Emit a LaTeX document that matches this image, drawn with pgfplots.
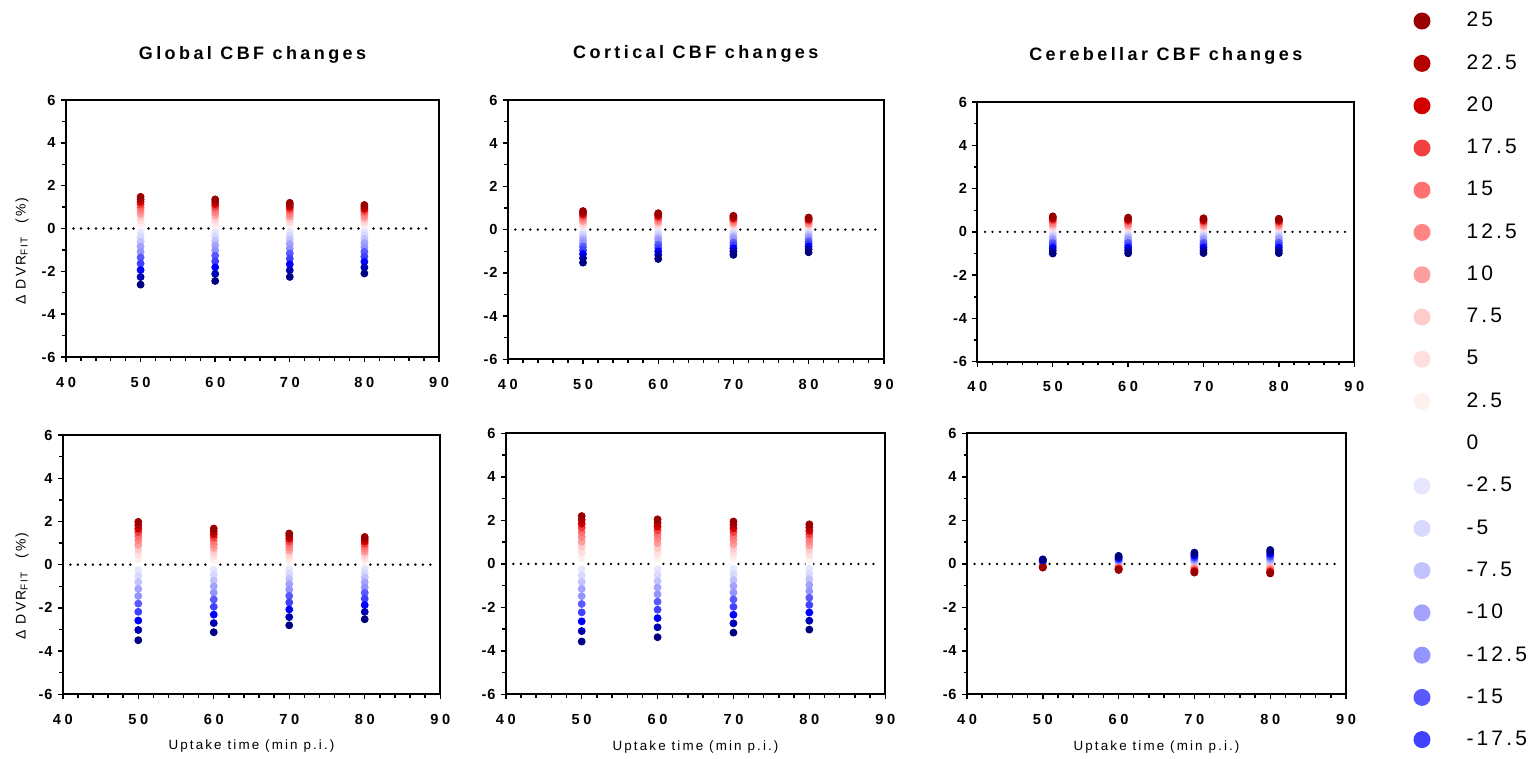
\documentclass[border=0pt]{standalone}
\usepackage{fontspec}
\setmainfont{Liberation Sans}
\usepackage{pgfplots}
\usepackage{pgfplotstable}
\pgfplotsset{compat=1.18}
\newfontfamily\tickfam[LetterSpace=25]{Liberation Sans}
\newfontfamily\ytickfam[LetterSpace=6]{Liberation Sans}
\newfontfamily\titlefam[LetterSpace=19]{Liberation Sans}
\newfontfamily\legfam[LetterSpace=15]{Liberation Sans}
\newfontfamily\labfam[LetterSpace=16]{Liberation Sans}
\newcommand\tickf{\tickfam\bfseries\fontsize{7.3pt}{8pt}\selectfont}
\newcommand\ytickf{\ytickfam\bfseries\fontsize{7.3pt}{8pt}\selectfont}
\newcommand\titlef{\titlefam\bfseries\fontsize{9pt}{10pt}\selectfont}
\newcommand\legf{\legfam\fontsize{10.5pt}{12pt}\selectfont}
\newcommand\labf{\labfam\fontsize{6.7pt}{8pt}\selectfont}
\newcommand\ylabf{\labfam\fontsize{7pt}{8pt}\selectfont}

\definecolor{c25}{RGB}{153,0,0}
\definecolor{c225}{RGB}{179,0,0}
\definecolor{c20}{RGB}{212,0,0}
\definecolor{c175}{RGB}{242,64,64}
\definecolor{c15}{RGB}{255,112,112}
\definecolor{c125}{RGB}{255,133,133}
\definecolor{c10}{RGB}{255,158,158}
\definecolor{c75}{RGB}{255,204,204}
\definecolor{c5}{RGB}{255,222,222}
\definecolor{c25s}{RGB}{255,240,240}
\definecolor{cm25s}{RGB}{230,230,255}
\definecolor{cm5}{RGB}{217,217,255}
\definecolor{cm75}{RGB}{194,194,255}
\definecolor{cm10}{RGB}{163,163,255}
\definecolor{cm125}{RGB}{148,148,255}
\definecolor{cm15}{RGB}{89,89,255}
\definecolor{cm175}{RGB}{64,64,255}

\pgfplotsset{
  colormap={cbf}{rgb255=(0,0,128) rgb255=(0,0,179) rgb255=(0,0,255) rgb255=(64,64,255)
    rgb255=(89,89,255) rgb255=(148,148,255) rgb255=(163,163,255) rgb255=(194,194,255)
    rgb255=(217,217,255) rgb255=(230,230,255) rgb255=(255,255,255) rgb255=(255,240,240)
    rgb255=(255,222,222) rgb255=(255,204,204) rgb255=(255,158,158) rgb255=(255,133,133)
    rgb255=(255,112,112) rgb255=(242,64,64) rgb255=(212,0,0) rgb255=(179,0,0) rgb255=(153,0,0)},
  panel/.style={
    scale only axis, anchor=north west,
    xmin=40, xmax=90, ymin=-6, ymax=6,
    xtick={40,50,...,90}, ytick={-6,-4,...,6},
    minor x tick num=4, minor y tick num=1,
    tick align=outside, xtick pos=bottom, ytick pos=left,
    major tick length=2.5pt, minor tick length=1.75pt,
    tick style={black, line width=0.7pt},
    axis line style={line width=1pt},
    xticklabel style={font=\tickf, inner sep=0pt},
    yticklabel style={font=\ytickf, inner sep=0pt},
    /pgf/number format/assume math mode=true,
    xticklabel shift=7.3pt, yticklabel shift=2.5pt,
    colormap name=cbf, point meta min=-25, point meta max=25,
    title style={font=\titlef, anchor=base, at={(axis description cs:0.5,1.112)}},
    xlabel style={font=\labf, anchor=center, at={(axis description cs:0.5,-0.2)}},
    ylabel style={font=\ylabf, anchor=center},
  },
  dotcol/.style={scatter, only marks, mark=*, mark size=1.75pt, scatter src=explicit,
    scatter/use mapped color={draw=mapped color, fill=mapped color}, forget plot},
  zeroline/.style={black, line width=1.3pt, dash pattern=on 0pt off 3.75pt, line cap=round, forget plot},
}

% columns: CBF change level, Delta DVR at 50, 60, 70, 80 min
\pgfplotstableread{
lvl a b c d
0 0 0 0 0
2.5 0.185 0.170 0.150 0.138
-2.5 -0.191 -0.179 -0.165 -0.153
5 0.361 0.332 0.293 0.268
-5 -0.396 -0.370 -0.341 -0.317
7.5 0.527 0.484 0.427 0.392
-7.5 -0.610 -0.571 -0.527 -0.489
10 0.684 0.628 0.554 0.508
-10 -0.841 -0.786 -0.725 -0.674
12.5 0.833 0.766 0.676 0.619
-12.5 -1.087 -1.017 -0.938 -0.872
15 0.975 0.896 0.791 0.725
-15 -1.352 -1.264 -1.166 -1.084
17.5 1.111 1.021 0.901 0.826
-17.5 -1.635 -1.529 -1.410 -1.310
20 1.240 1.140 1.006 0.922
-20 -1.939 -1.813 -1.672 -1.554
22.5 1.363 1.253 1.105 1.013
-22.5 -2.266 -2.119 -1.955 -1.817
25 1.48 1.36 1.20 1.10
-25 -2.62 -2.45 -2.26 -2.10
}\tabA
\pgfplotstableread{
lvl a b c d
0 0 0 0 0
2.5 0.108 0.095 0.080 0.070
-2.5 -0.112 -0.099 -0.085 -0.077
5 0.210 0.185 0.156 0.137
-5 -0.231 -0.205 -0.177 -0.159
7.5 0.306 0.271 0.228 0.199
-7.5 -0.356 -0.317 -0.273 -0.245
10 0.397 0.351 0.296 0.259
-10 -0.491 -0.437 -0.376 -0.337
12.5 0.484 0.428 0.360 0.315
-12.5 -0.635 -0.564 -0.486 -0.436
15 0.567 0.501 0.422 0.369
-15 -0.789 -0.702 -0.604 -0.542
17.5 0.646 0.571 0.481 0.421
-17.5 -0.955 -0.849 -0.730 -0.655
20 0.721 0.637 0.536 0.469
-20 -1.132 -1.006 -0.866 -0.777
22.5 0.792 0.700 0.589 0.516
-22.5 -1.323 -1.176 -1.012 -0.908
25 0.86 0.76 0.64 0.56
-25 -1.53 -1.36 -1.17 -1.05
}\tabB
\pgfplotstableread{
lvl a b c d
0 0 0 0 0
2.5 0.090 0.083 0.079 0.076
-2.5 -0.073 -0.072 -0.072 -0.072
5 0.176 0.161 0.154 0.149
-5 -0.151 -0.149 -0.148 -0.148
7.5 0.256 0.235 0.224 0.217
-7.5 -0.233 -0.231 -0.228 -0.228
10 0.333 0.305 0.291 0.282
-10 -0.321 -0.318 -0.315 -0.315
12.5 0.405 0.372 0.355 0.343
-12.5 -0.415 -0.411 -0.407 -0.407
15 0.474 0.435 0.415 0.402
-15 -0.516 -0.511 -0.506 -0.506
17.5 0.541 0.496 0.473 0.458
-17.5 -0.624 -0.618 -0.612 -0.612
20 0.603 0.553 0.528 0.511
-20 -0.740 -0.733 -0.725 -0.725
22.5 0.663 0.608 0.580 0.562
-22.5 -0.865 -0.856 -0.848 -0.848
25 0.72 0.66 0.63 0.61
-25 -1.00 -0.99 -0.98 -0.98
}\tabC
\pgfplotstableread{
lvl a b c d
0 0 0 0 0
2.5 0.248 0.209 0.180 0.160
-2.5 -0.256 -0.228 -0.205 -0.185
5 0.483 0.407 0.351 0.312
-5 -0.529 -0.473 -0.424 -0.382
7.5 0.705 0.595 0.513 0.456
-7.5 -0.816 -0.729 -0.655 -0.589
10 0.915 0.772 0.665 0.591
-10 -1.124 -1.005 -0.902 -0.812
12.5 1.115 0.940 0.811 0.721
-12.5 -1.453 -1.299 -1.166 -1.050
15 1.305 1.101 0.949 0.844
-15 -1.806 -1.615 -1.450 -1.305
17.5 1.487 1.254 1.081 0.961
-17.5 -2.184 -1.953 -1.753 -1.579
20 1.659 1.399 1.207 1.073
-20 -2.590 -2.316 -2.079 -1.872
22.5 1.824 1.538 1.326 1.179
-22.5 -3.028 -2.707 -2.431 -2.188
25 1.98 1.67 1.44 1.28
-25 -3.50 -3.13 -2.81 -2.53
}\tabD
\pgfplotstableread{
lvl a b c d
0 0 0 0 0
2.5 0.275 0.256 0.244 0.228
-2.5 -0.261 -0.246 -0.231 -0.220
5 0.537 0.500 0.476 0.444
-5 -0.539 -0.509 -0.477 -0.456
7.5 0.783 0.730 0.694 0.648
-7.5 -0.832 -0.785 -0.736 -0.704
10 1.016 0.947 0.901 0.841
-10 -1.146 -1.082 -1.014 -0.969
12.5 1.239 1.154 1.098 1.025
-12.5 -1.482 -1.399 -1.311 -1.253
15 1.450 1.351 1.285 1.199
-15 -1.842 -1.739 -1.631 -1.558
17.5 1.652 1.540 1.464 1.367
-17.5 -2.228 -2.103 -1.972 -1.884
20 1.844 1.718 1.634 1.525
-20 -2.642 -2.494 -2.338 -2.235
22.5 2.026 1.888 1.796 1.676
-22.5 -3.088 -2.915 -2.733 -2.612
25 2.20 2.05 1.95 1.82
-25 -3.57 -3.37 -3.16 -3.02
}\tabE
\pgfplotstableread{
lvl a b c d
0 0 0 0 0
2.5 -0.021 -0.035 -0.050 -0.055
-2.5 0.015 0.027 0.038 0.047
5 -0.041 -0.068 -0.098 -0.107
-5 0.032 0.056 0.079 0.097
7.5 -0.061 -0.100 -0.142 -0.157
-7.5 0.049 0.086 0.121 0.149
10 -0.079 -0.129 -0.185 -0.203
-10 0.067 0.119 0.167 0.205
12.5 -0.096 -0.158 -0.225 -0.248
-12.5 0.087 0.154 0.216 0.266
15 -0.112 -0.185 -0.264 -0.290
-15 0.108 0.191 0.268 0.330
17.5 -0.128 -0.210 -0.300 -0.330
-17.5 0.131 0.231 0.324 0.399
20 -0.142 -0.235 -0.335 -0.369
-20 0.155 0.274 0.385 0.474
22.5 -0.157 -0.258 -0.368 -0.405
-22.5 0.182 0.320 0.450 0.554
25 -0.17 -0.28 -0.40 -0.44
-25 0.21 0.37 0.52 0.64
}\tabF

\newcommand\columns[1]{%
  \addplot[zeroline] coordinates {(41,0) (89,0)};
  \addplot[dotcol] table[x expr=50, y=a, meta=lvl] {#1};
  \addplot[dotcol] table[x expr=60, y=b, meta=lvl] {#1};
  \addplot[dotcol] table[x expr=70, y=c, meta=lvl] {#1};
  \addplot[dotcol] table[x expr=80, y=d, meta=lvl] {#1};
}

\begin{document}
\begin{tikzpicture}
\path[use as bounding box] (0,0) rectangle (765.5pt,-379.5pt);

\begin{axis}[panel, at={(33pt,-50pt)}, width=186.5pt, height=128.5pt,
  title={Global CBF changes},
  ylabel={Δ DVR\textsubscript{FIT}\ \ (\%)},
  ylabel style={at={(axis description cs:-0.118,0.412)}}]
\columns{\tabA}
\end{axis}

\begin{axis}[panel, at={(253.9pt,-50pt)}, width=188pt, height=129.6pt,
  title={Cortical CBF changes}]
\columns{\tabB}
\end{axis}

\begin{axis}[panel, at={(488.7pt,-51pt)}, width=188.4pt, height=129.9pt,
  title={Cerebellar CBF changes},
  legend style={at={(axis description cs:1.1574,1.3457)}, anchor=north west,
    draw=none, fill=none, inner sep=0pt, outer sep=0pt, row sep=12.35pt, column sep=18pt,
    font=\legf, cells={anchor=west}, nodes={inner sep=0pt}},
  legend cell align=left,
  legend image code/.code={\path[#1, draw=none] (0pt,0pt) circle (4.25pt);}]
\columns{\tabC}
\addlegendimage{fill=c25}\addlegendentry{25}
\addlegendimage{fill=c225}\addlegendentry{22.5}
\addlegendimage{fill=c20}\addlegendentry{20}
\addlegendimage{fill=c175}\addlegendentry{17.5}
\addlegendimage{fill=c15}\addlegendentry{15}
\addlegendimage{fill=c125}\addlegendentry{12.5}
\addlegendimage{fill=c10}\addlegendentry{10}
\addlegendimage{fill=c75}\addlegendentry{7.5}
\addlegendimage{fill=c5}\addlegendentry{5}
\addlegendimage{fill=c25s}\addlegendentry{2.5}
\addlegendimage{fill=white}\addlegendentry{0}
\addlegendimage{fill=cm25s}\addlegendentry{-2.5}
\addlegendimage{fill=cm5}\addlegendentry{-5}
\addlegendimage{fill=cm75}\addlegendentry{-7.5}
\addlegendimage{fill=cm10}\addlegendentry{-10}
\addlegendimage{fill=cm125}\addlegendentry{-12.5}
\addlegendimage{fill=cm15}\addlegendentry{-15}
\addlegendimage{fill=cm175}\addlegendentry{-17.5}
\end{axis}

\begin{axis}[panel, at={(31.4pt,-217.5pt)}, width=188.7pt, height=129.6pt,
  xlabel={Uptake time (min p.i.)},
  ylabel={Δ DVR\textsubscript{FIT}\ \ (\%)},
  ylabel style={at={(axis description cs:-0.108,0.417)}}]
\columns{\tabD}
\end{axis}

\begin{axis}[panel, at={(252.9pt,-216.7pt)}, width=189.7pt, height=130.5pt,
  xlabel={Uptake time (min p.i.)}]
\columns{\tabE}
\end{axis}

\begin{axis}[panel, at={(483.5pt,-216.7pt)}, width=189.5pt, height=130.5pt,
  xlabel={Uptake time (min p.i.)}]
\columns{\tabF}
\end{axis}
\end{tikzpicture}
\end{document}
